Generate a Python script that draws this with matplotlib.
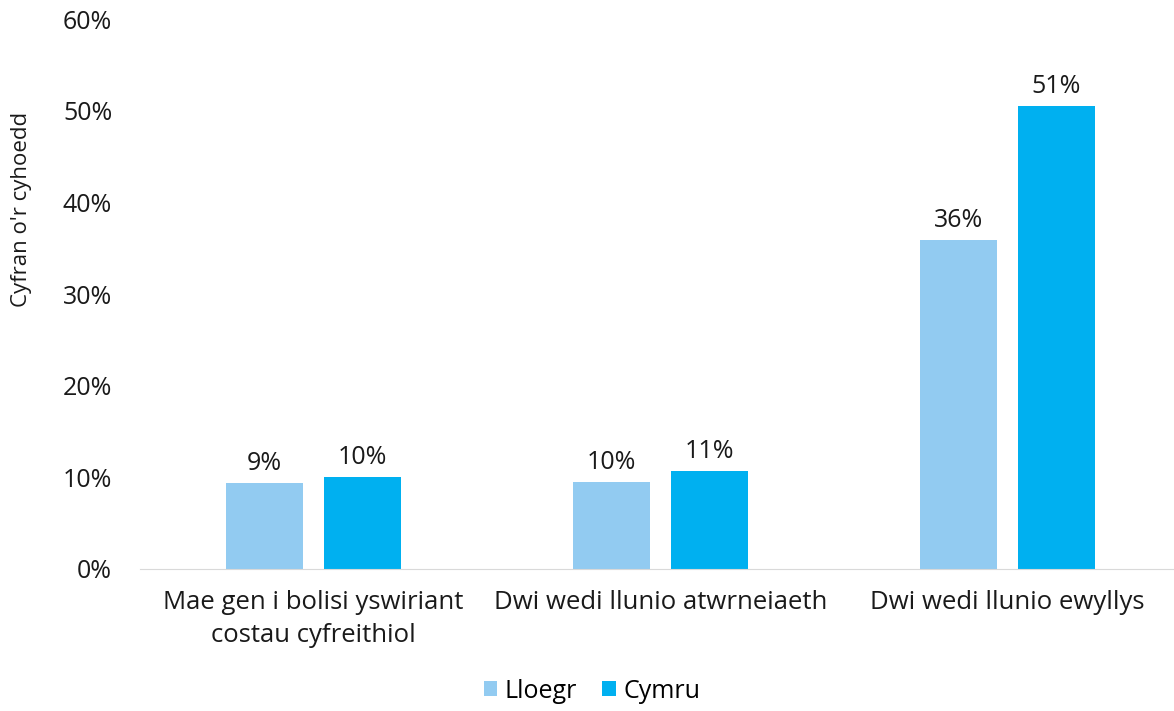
import matplotlib.pyplot as plt
import numpy as np
from matplotlib.ticker import PercentFormatter

plt.rcParams['font.family'] = ['Open Sans', 'DejaVu Sans']

categories = ["Mae gen i bolisi yswiriant\ncostau cyfreithiol",
              "Dwi wedi llunio atwrneiaeth",
              "Dwi wedi llunio ewyllys"]
lloegr = [9.4, 9.5, 35.9]
cymru = [10.0, 10.7, 50.5]
lloegr_labels = ["9%", "10%", "36%"]
cymru_labels = ["10%", "11%", "51%"]

fig = plt.figure(figsize=(11.74, 7.11), dpi=100)
ax = fig.add_axes([140 / 1174, 142 / 711, 1041 / 1174, 550 / 711])

x = np.arange(len(categories))
w = 0.222
off = 0.141
b1 = ax.bar(x - off, lloegr, w, color='#92cbf1', label='Lloegr')
b2 = ax.bar(x + off, cymru, w, color='#00b0f0', label='Cymru')

for bars, labels in [(b1, lloegr_labels), (b2, cymru_labels)]:
    for bar, lab in zip(bars, labels):
        ax.annotate(lab, (bar.get_x() + bar.get_width() / 2, bar.get_height()),
                    xytext=(0, 5), textcoords='offset points',
                    ha='center', va='bottom', fontsize=18, color='#1a1a1a')

ax.set_xlim(-0.5, 2.5)
ax.set_ylim(0, 60)
ax.set_yticks(np.arange(0, 61, 10))
ax.yaxis.set_major_formatter(PercentFormatter(decimals=0))
ax.set_xticks(x)
ax.set_xticklabels(categories, fontsize=18.5, color='#1a1a1a', linespacing=1.45)
ax.tick_params(axis='x', length=0, pad=15)
ax.tick_params(axis='y', length=0, pad=20, labelsize=18, labelcolor='#1a1a1a')

for s in ['top', 'right', 'left']:
    ax.spines[s].set_visible(False)
ax.spines['bottom'].set_color('#d9d9d9')

fig.text(22 / 1174, 1 - 209 / 711, "Cyfran o'r cyhoedd", rotation=90,
         ha='center', va='center', fontsize=16, color='#1a1a1a')

fig.legend(loc='center', bbox_to_anchor=(592 / 1174, 1 - 691 / 711), ncol=2,
           frameon=False, fontsize=18, handlelength=0.55, handleheight=0.55,
           handletextpad=0.3, columnspacing=1.0)

fig.savefig('out.png', dpi=100)
